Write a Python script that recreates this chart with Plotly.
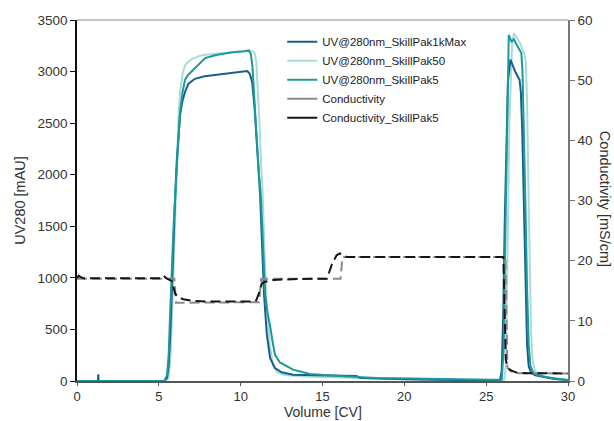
import plotly.graph_objects as go

# ---------------- data ----------------
uv1k_x = [0, 1.28, 1.3, 1.32, 5.3, 5.5, 5.6, 5.7, 5.8, 5.9, 6.0, 6.1, 6.2, 6.3, 6.45, 6.6, 6.8, 7.2, 7.8, 8.5,
          9.5, 10.2, 10.4, 10.55, 10.7, 10.85, 11.0, 11.19, 11.3, 11.43, 11.6, 11.8, 12.1, 12.5, 13.2, 14.2,
          15.25, 16.2, 17.08, 17.3, 18.5, 20, 22, 24, 25.85, 25.95, 26.05, 26.13, 26.22, 26.33, 26.48, 26.6,
          26.8, 27.04, 27.12, 27.2, 27.3, 27.4, 27.5, 27.6, 27.75, 28, 28.5, 29, 29.5, 30]
uv1k_y = [0, 0, 65, 0, 0, 30, 150, 450, 900, 1400, 1800, 2150, 2400, 2580, 2720, 2800, 2880, 2930, 2955, 2970,
          2985, 3000, 3005, 2980, 2900, 2650, 2250, 1798, 1350, 834, 450, 222, 125, 85, 61, 58,
          55, 52, 48, 29, 22, 16, 12, 8, 5, 100, 700, 1500, 2300, 2900, 3115, 3070,
          2990, 2921, 2800, 2450, 1700, 900, 350, 140, 80, 55, 38, 25, 15, 10]

uv50_x = [0, 5.5, 5.62, 5.72, 5.8, 5.9, 6.0, 6.1, 6.2, 6.3, 6.45, 6.6, 6.71, 7.0, 7.52, 7.83, 8.5, 9.15, 10.0,
          10.7, 10.85, 10.95, 11.05, 11.15, 11.25, 11.35, 11.45, 11.56, 11.68, 11.8, 11.98, 12.2, 12.5, 12.81,
          14.2, 16, 18, 20, 22, 24, 26.1, 26.2, 26.28, 26.35, 26.42, 26.5, 26.58, 26.69, 26.75, 26.9, 27.06,
          27.2, 27.35, 27.42, 27.5, 27.58, 27.66, 27.74, 27.82, 27.95, 28.2, 28.6, 29.2, 30]
uv50_y = [0, 0, 50, 250, 600, 1100, 1700, 2200, 2550, 2800, 2980, 3060, 3083, 3120, 3153, 3164, 3175, 3188, 3195,
          3200, 3185, 3100, 2850, 2500, 2100, 1798, 1300, 834, 550, 330, 150, 90, 65, 55,
          42, 35, 25, 18, 13, 10, 8, 150, 800, 1700, 2500, 3000, 3250, 3365, 3360, 3320, 3280,
          3220, 3163, 3100, 2700, 1900, 1100, 500, 220, 110, 65, 45, 28, 10]

uv5_x = [0, 5.35, 5.5, 5.6, 5.7, 5.8, 5.9, 6.0, 6.1, 6.2, 6.3, 6.45, 6.6, 6.8, 7.1, 7.5, 7.83, 8.5, 9.5, 10.2,
         10.5, 10.62, 10.72, 10.85, 11.0, 11.12, 11.23, 11.35, 11.5, 11.65, 11.79, 11.95, 12.1, 12.4, 12.81, 13.2,
         14.23, 15.2, 16.25, 18.3, 21.35, 25.4, 25.95, 26.07, 26.15, 26.22, 26.3, 26.35, 26.38, 26.45, 26.55,
         26.62, 26.69, 26.8, 27.0, 27.15, 27.22, 27.3, 27.4, 27.5, 27.6, 27.7, 27.85, 28.1, 28.6, 29.2, 30]
uv5_y = [0, 0, 60, 250, 700, 1150, 1500, 1800, 2100, 2400, 2620, 2800, 2920, 2970, 3018, 3080, 3131, 3160, 3188, 3198,
         3205, 3170, 3050, 2700, 2250, 2000, 1798, 1350, 834, 650, 543, 380, 254, 180, 141, 110,
         67, 55, 45, 29, 19, 13, 15, 300, 1200, 2000, 2700, 3150, 3355, 3330, 3290,
         3300, 3315, 3280, 3220, 3180, 3000, 2500, 1700, 900, 350, 150, 90, 60, 40, 25, 10]

cond_x = [0, 5.95, 6.0, 6.05, 11.13, 11.18, 11.25, 16.1, 16.17, 16.22, 26.18, 26.23, 26.3, 26.5, 27.0, 30]
cond_y = [17.0, 17.0, 15.0, 13.0, 13.1, 15.5, 17.0, 17.0, 19.0, 20.6, 20.6, 12.0, 2.2, 1.6, 1.3, 1.25]

cond5_x = [0, 0.1, 0.2, 0.4, 5.1, 5.28, 5.45, 5.8, 5.9, 6.0, 6.2, 6.5, 7.0, 8, 10.85, 10.95, 11.08, 11.2, 11.29,
           11.5, 12.0, 13.5, 15.25, 15.35, 15.56, 15.86, 16.06, 16.3, 16.5, 26.05, 26.1, 26.15, 26.2, 26.3,
           26.43, 26.84, 27.5, 30]
cond5_y = [17.1, 17.5, 17.3, 17.06, 17.06, 17.5, 17.1, 16.6, 15.5, 14.5, 13.9, 13.6, 13.35, 13.2, 13.2, 13.4, 14.3,
           15.5, 16.2, 16.5, 16.8, 16.95, 17.0, 17.6, 19.3, 20.9, 21.2, 20.8, 20.6, 20.6, 16.0, 8.0, 3.5, 2.5,
           1.9, 1.4, 1.3, 1.25]

x_ticks = [0, 5, 10, 15, 20, 25, 30]
y_ticks = [0, 500, 1000, 1500, 2000, 2500, 3000, 3500]
y2_ticks = [0, 10, 20, 30, 40, 50, 60]

names = ["UV@280nm_SkillPak1kMax", "UV@280nm_SkillPak50", "UV@280nm_SkillPak5",
         "Conductivity", "Conductivity_SkillPak5"]
colors = ["#175e8e", "#a9dcd8", "#1c9a9b", "#8a8a8a", "#151515"]

FONT = "Liberation Sans, Arial, Helvetica, sans-serif"
TXT = "#333333"

fig = go.Figure()

# drawn traces (no legend)
fig.add_trace(go.Scatter(x=cond_x, y=cond_y, mode="lines", yaxis="y2", showlegend=False,
                         line=dict(color=colors[3], width=2, dash="10px,5px")))
fig.add_trace(go.Scatter(x=cond5_x, y=cond5_y, mode="lines", yaxis="y2", showlegend=False,
                         line=dict(color=colors[4], width=2, dash="10px,5px")))
fig.add_trace(go.Scatter(x=uv50_x, y=uv50_y, mode="lines", showlegend=False,
                         line=dict(color=colors[1], width=2)))
fig.add_trace(go.Scatter(x=uv1k_x, y=uv1k_y, mode="lines", showlegend=False,
                         line=dict(color=colors[0], width=2)))
fig.add_trace(go.Scatter(x=uv5_x, y=uv5_y, mode="lines", showlegend=False,
                         line=dict(color=colors[2], width=2)))

# legend entries
for n, c in zip(names, colors):
    fig.add_trace(go.Scatter(x=[None], y=[None], mode="lines", name=n,
                             line=dict(color=c, width=2)))

fig.update_layout(
    width=614, height=421,
    margin=dict(l=77, r=46, t=20, b=40, autoexpand=False),
    paper_bgcolor="white", plot_bgcolor="white",
    font=dict(family=FONT, color=TXT, size=14),
    showlegend=True,
    legend=dict(x=0.418, y=0.98, xanchor="left", yanchor="top",
                bgcolor="rgba(0,0,0,0)", font=dict(size=11.5, color="#222"),
                tracegroupgap=0),
    xaxis=dict(range=[0, 30], tickvals=x_ticks, showgrid=False, zeroline=False, automargin=False,
               showline=True, linecolor="#555555", linewidth=1.5,
               ticks="outside", ticklen=3, tickcolor="#555555",
               tickfont=dict(size=13, color=TXT)),
    yaxis=dict(range=[0, 3500], tickvals=y_ticks, showgrid=False, zeroline=False, automargin=False,
               showline=True, linecolor="#111111", linewidth=1.5,
               ticks="outside", ticklen=5, tickcolor="#111111",
               tickfont=dict(size=13.5, color=TXT),
               title=dict(text="UV280 [mAU]", font=dict(size=14.5, color=TXT), standoff=8)),
    yaxis2=dict(range=[0, 60], tickvals=y2_ticks, overlaying="y", side="right", automargin=False,
                showgrid=False, zeroline=False,
                showline=True, linecolor="#777777", linewidth=1.5,
                ticks="outside", ticklen=5, tickcolor="#777777",
                tickfont=dict(size=13.5, color=TXT)),
    shapes=[dict(type="line", xref="paper", yref="paper", x0=0, x1=1, y0=1, y1=1,
                 line=dict(color="#888888", width=1))],
    annotations=[
        dict(text="Conductivity [mS/cm]", xref="paper", yref="paper",
             x=1.075, y=0.505, xanchor="center", yanchor="middle",
             showarrow=False, textangle=90, font=dict(size=14.5, color=TXT)),
        dict(text="Volume [CV]", xref="paper", yref="paper",
             x=0.5, y=-0.11, xanchor="center", yanchor="bottom",
             showarrow=False, borderpad=0, font=dict(size=14, color=TXT)),
    ],
)

fig.write_html("out.html", config={"displayModeBar": False},
               post_script="document.body.style.margin='0';document.body.style.padding='0';")
